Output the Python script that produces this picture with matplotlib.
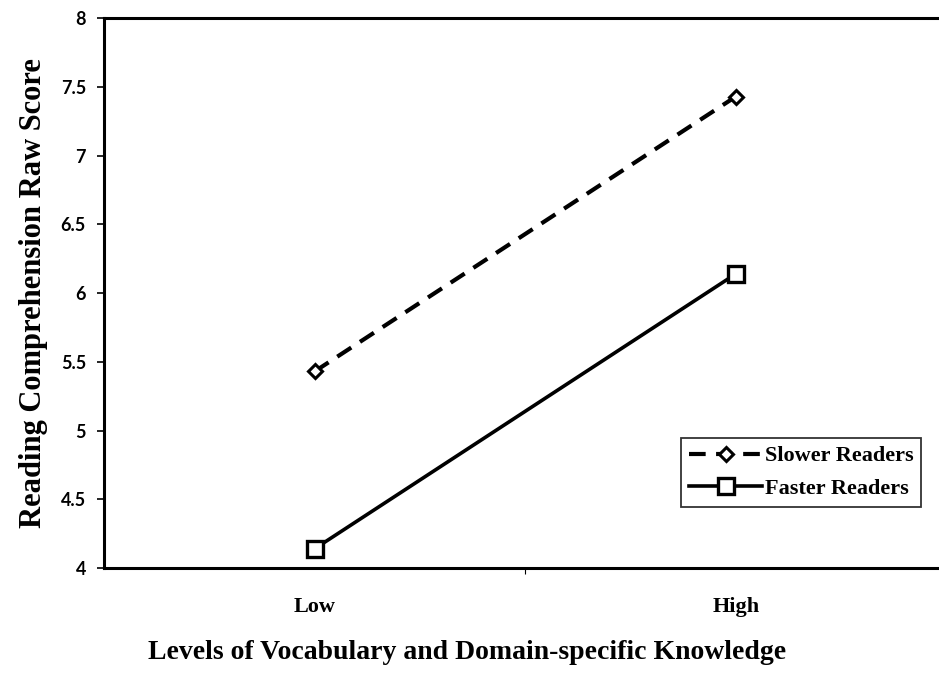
import matplotlib
matplotlib.use("Agg")
import matplotlib.pyplot as plt

# data
levels = ["Low", "High"]
slower = [5.43, 7.43]
faster = [4.14, 6.14]
y_ticks = [4, 4.5, 5, 5.5, 6, 6.5, 7, 7.5, 8]
y_tick_labels = ["4", "4.5", "5", "5.5", "6", "6.5", "7", "7.5", "8"]

fig = plt.figure(figsize=(9.39, 6.77), dpi=100)
ax = fig.add_axes([0.1108, 0.161, 0.897, 0.812])

x = list(range(len(levels)))
ax.plot(x, slower, color="black", lw=3, ls=(0, (4, 2.5)), marker="D",
        ms=7, mfc="white", mec="black", mew=2.2, label="Slower Readers")
ax.plot(x, faster, color="black", lw=2.6, ls="-", marker="s",
        ms=11, mfc="white", mec="black", mew=2.4, label="Faster Readers")

ax.set_xlim(-0.5, 1.5)
ax.set_ylim(4, 8)
ax.set_yticks(y_ticks)
ax.set_yticklabels(y_tick_labels, fontfamily="Lato", fontweight="bold", fontsize=13)
ax.set_xticks(x)
ax.set_xticklabels(levels, fontfamily="Liberation Serif", fontweight="bold", fontsize=16)
ax.set_xticks([0.5], minor=True)
ax.tick_params(axis="x", which="major", length=0, pad=21)
ax.tick_params(axis="x", which="minor", length=4, width=0.8, direction="out")
ax.tick_params(axis="y", length=5, width=1.2, direction="out", pad=8)

for side in ["left", "top", "bottom", "right"]:
    ax.spines[side].set_linewidth(2.2)

ax.set_ylabel("Reading Comprehension Raw Score", fontfamily="Liberation Serif",
              fontweight="bold", fontsize=22, labelpad=9)
fig.text(0.497, 0.036, "Levels of Vocabulary and Domain-specific Knowledge",
         fontfamily="Liberation Serif", fontweight="bold", fontsize=20,
         ha="center", va="center")

leg = ax.legend(loc="lower right", bbox_to_anchor=(0.97, 0.111), borderaxespad=0,
                frameon=True, fancybox=False, edgecolor="black", handlelength=3.3,
                handletextpad=0.1, borderpad=0.35, labelspacing=0.55,
                prop={"family": "Liberation Serif", "weight": "bold", "size": 16})
leg.get_frame().set_linewidth(1.3)

fig.savefig("out.png", dpi=100)
